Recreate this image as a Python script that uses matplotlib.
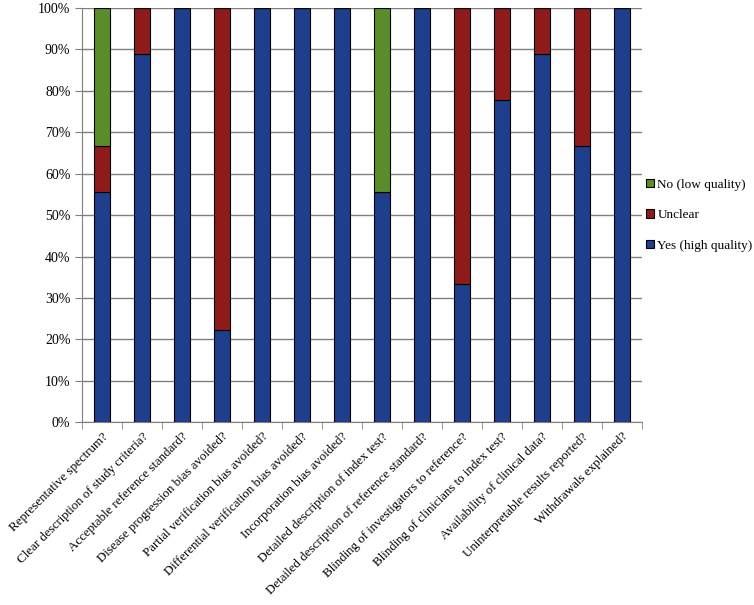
import matplotlib.pyplot as plt
import numpy as np

plt.rcParams['font.family'] = ['Liberation Serif', 'DejaVu Serif']

categories = [
    "Representative spectrum?",
    "Clear description of study criteria?",
    "Acceptable reference standard?",
    "Disease progression bias avoided?",
    "Partial verification bias avoided?",
    "Differential verification bias avoided?",
    "Incorporation bias avoided?",
    "Detailed description of index test?",
    "Detailed description of reference standard?",
    "Blinding of investigators to reference?",
    "Blinding of clinicians to index test?",
    "Availability of clinical data?",
    "Uninterpretable results reported?",
    "Withdrawals explained?",
]
# number of studies out of 9
yes = np.array([5, 8, 9, 2, 9, 9, 9, 5, 9, 3, 7, 8, 6, 9])
unclear = np.array([1, 1, 0, 7, 0, 0, 0, 0, 0, 6, 2, 1, 3, 0])
no = np.array([3, 0, 0, 0, 0, 0, 0, 4, 0, 0, 0, 0, 0, 0])

total = yes + unclear + no
yes_p = yes / total * 100
unclear_p = unclear / total * 100
no_p = no / total * 100

blue = '#1F3E8C'
red = '#8E1B1B'
green = '#5B8C2A'

fig = plt.figure(figsize=(7.54, 6.05), dpi=100)
ax = fig.add_axes([0.109, 0.302, 0.742, 0.685])

x = np.arange(len(categories))
w = 0.4
b1 = ax.bar(x, yes_p, w, color=blue, edgecolor='black', linewidth=0.8,
            label='Yes (high quality)', zorder=3)
b2 = ax.bar(x, unclear_p, w, bottom=yes_p, color=red, edgecolor='black',
            linewidth=0.8, label='Unclear', zorder=3)
b3 = ax.bar(x, no_p, w, bottom=yes_p + unclear_p, color=green,
            edgecolor='black', linewidth=0.8, label='No (low quality)', zorder=3)

ax.set_xlim(-0.5, len(categories) - 0.5)
ax.set_ylim(0, 100)
ax.set_yticks(np.arange(0, 101, 10))
ax.set_yticklabels([f'{v}%' for v in range(0, 101, 10)], fontsize=10)
ax.yaxis.grid(True, color='#808080', linewidth=1)
ax.set_axisbelow(True)

ax.set_xticks(x)
ax.set_xticklabels(categories, rotation=45, ha='right', rotation_mode='anchor',
                   fontsize=9.4)
ax.tick_params(axis='x', length=0, pad=6)
ax.set_xticks(np.arange(-0.5, len(categories), 1), minor=True)
ax.tick_params(axis='x', which='minor', length=5, color='#808080')
ax.tick_params(axis='y', length=5, color='#808080')

for s in ['top', 'right']:
    ax.spines[s].set_visible(False)
for s in ['left', 'bottom']:
    ax.spines[s].set_color('#808080')

ax.legend(handles=[b3, b2, b1], loc='center left', bbox_to_anchor=(1.0, 0.5),
          frameon=False, fontsize=9.5, handlelength=0.6, handleheight=0.6,
          labelspacing=1.4, handletextpad=0.3, borderpad=0, borderaxespad=0.3)

fig.savefig('out.png', dpi=100)
